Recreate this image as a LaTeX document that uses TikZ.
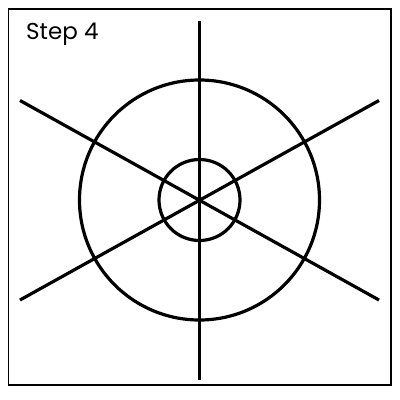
\documentclass[tikz,border=0pt]{standalone}
\usepackage{fontspec}
\setmainfont{Poppins}
\begin{document}
\begin{tikzpicture}[x=1pt,y=-1pt,
  frame/.style={draw=black,line width=1.6pt},
  stroke/.style={draw=black,line width=3.2pt},
  label/.style={anchor=base west,inner sep=0pt,font=\fontsize{23}{27}\selectfont}]
\useasboundingbox (0,0) rectangle (400,400);
\fill[white] (0,0) rectangle (400,400);
\draw[frame] (8.5,9) rectangle (391,385);
\node[label] (title) at (26,39.5) {Step 4};
\coordinate (c) at (199.5,200);
\coordinate (t) at (199.5,20.5);
\coordinate (b) at (199.5,379.5);
\coordinate (l1) at (20,100.5);
\coordinate (r1) at (379,300);
\coordinate (l2) at (20,300);
\coordinate (r2) at (379,100.5);
\draw[stroke] (c) circle[radius=120];
\draw[stroke] (c) circle[radius=40.5];
\draw[stroke] (t) -- (b);
\draw[stroke] (l1) -- (r1);
\draw[stroke] (l2) -- (r2);
\end{tikzpicture}
\end{document}
